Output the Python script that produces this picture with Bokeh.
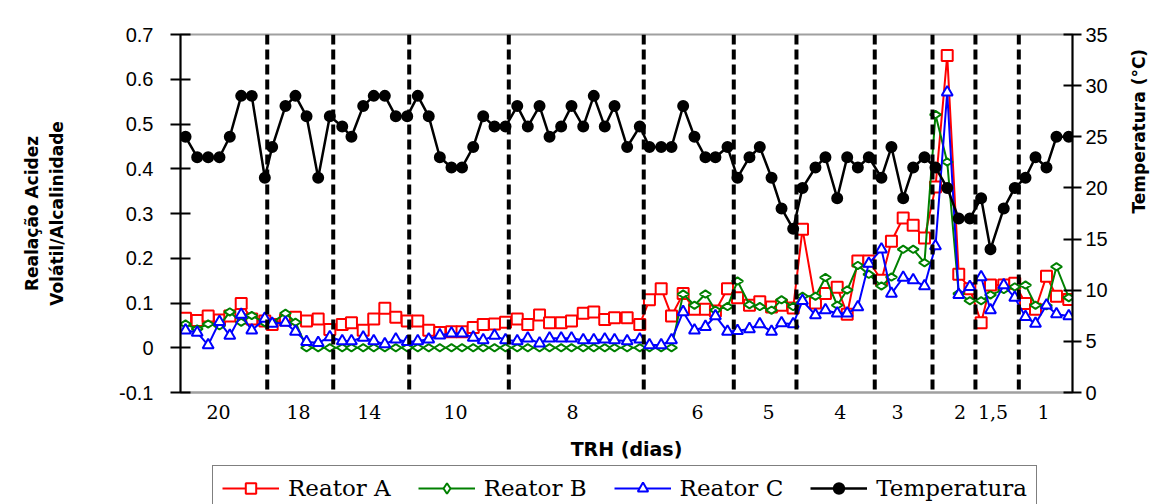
import math
from bokeh.plotting import figure
from bokeh.layouts import column
from bokeh.models import (Range1d, LinearAxis, Span, Legend, LegendItem,
                          FixedTicker)
from bokeh.embed import file_html
from bokeh.resources import INLINE

# ---- data ----
dia = [0.46, 1.52, 2.52, 3.55, 4.49, 5.53, 6.49, 7.68, 8.35, 9.56,
       10.47, 11.48, 12.54, 13.60, 14.73, 15.57, 16.64, 17.60, 18.61, 19.61,
       20.65, 21.61, 22.61, 23.62, 24.68, 25.64, 26.66, 27.57, 28.60, 29.60,
       30.67, 31.63, 32.70, 33.61, 34.67, 35.61, 36.68, 37.64, 38.64, 39.53,
       40.68, 41.83, 42.71, 43.78, 44.72, 45.78, 46.81, 47.81, 48.72, 49.82,
       50.73, 51.82, 52.76, 53.83, 54.74, 55.80, 56.65, 57.83, 58.74, 59.81,
       60.72, 61.69, 62.69, 63.84, 64.75, 65.82, 66.73, 67.76, 68.76, 69.83,
       70.88, 71.89, 72.92, 73.77, 74.98, 75.98, 76.96, 77.87, 78.87, 79.78, 80.90]

temperatura = [25, 23, 23, 23, 25, 29, 29, 21, 24, 28,
               29, 27, 21, 27, 26, 25, 28, 29, 29, 27,
               27, 29, 27, 23, 22, 22, 24, 27, 26, 26,
               28, 26, 28, 25, 26, 28, 26, 29, 26, 28,
               24, 26, 24, 24, 24, 28, 25, 23, 23, 24,
               21, 23, 24, 21, 18, 16, 20, 22, 23, 19,
               23, 22, 23, 21, 24, 19, 22, 23, 22, 20,
               17, 17, 19, 14, 18, 20, 21, 23, 22, 25, 25]

reator_a = [0.066, 0.061, 0.071, 0.062, 0.071, 0.099, 0.064, 0.060, 0.052, 0.062,
            0.068, 0.060, 0.064, 0.041, 0.052, 0.056, 0.039, 0.064, 0.088, 0.068,
            0.060, 0.060, 0.039, 0.034, 0.036, 0.036, 0.045, 0.052, 0.053, 0.057,
            0.064, 0.052, 0.073, 0.056, 0.056, 0.060, 0.077, 0.080, 0.063, 0.067,
            0.067, 0.052, 0.107, 0.132, 0.071, 0.121, 0.086, 0.086, 0.082, 0.132,
            0.112, 0.095, 0.103, 0.091, 0.095, 0.089, 0.265, 0.100, 0.121, 0.135,
            0.075, 0.194, 0.194, 0.151, 0.238, 0.290, 0.274, 0.245, 0.359, 0.653,
            0.164, 0.132, 0.056, 0.140, 0.140, 0.144, 0.099, 0.086, 0.160, 0.115, 0.108]

reator_b = [0.053, 0.042, 0.053, 0.049, 0.080, 0.057, 0.072, 0.056, 0.056, 0.077,
            0.057, 0.0, 0.0, 0.0, 0.0, 0.0, 0.0, 0.0, 0.0, 0.0,
            0.0, 0.0, 0.0, 0.0, 0.0, 0.0, 0.0, 0.0, 0.0, 0.0,
            0.0, 0.0, 0.0, 0.0, 0.0, 0.0, 0.0, 0.0, 0.0, 0.0,
            0.0, 0.0, 0.0, 0.0, 0.0, 0.120, 0.095, 0.120, 0.084, 0.092,
            0.149, 0.096, 0.092, 0.084, 0.107, 0.092, 0.115, 0.115, 0.157, 0.095,
            0.129, 0.184, 0.164, 0.138, 0.158, 0.220, 0.220, 0.190, 0.521, 0.415,
            0.121, 0.105, 0.105, 0.118, 0.130, 0.136, 0.140, 0.095, 0.094, 0.181, 0.112]

reator_c = [0.039, 0.034, 0.006, 0.058, 0.027, 0.074, 0.039, 0.065, 0.054, 0.056,
            0.036, 0.013, 0.011, 0.024, 0.015, 0.015, 0.023, 0.015, 0.008, 0.019,
            0.013, 0.015, 0.019, 0.028, 0.032, 0.032, 0.023, 0.017, 0.027, 0.017,
            0.015, 0.021, 0.010, 0.021, 0.021, 0.021, 0.017, 0.017, 0.019, 0.017,
            0.015, 0.019, 0.006, 0.006, 0.017, 0.080, 0.039, 0.047, 0.071, 0.036,
            0.038, 0.042, 0.053, 0.036, 0.055, 0.053, 0.105, 0.073, 0.084, 0.077,
            0.077, 0.091, 0.188, 0.220, 0.121, 0.157, 0.151, 0.138, 0.227, 0.571,
            0.118, 0.136, 0.158, 0.084, 0.140, 0.112, 0.069, 0.054, 0.095, 0.075, 0.071]

trh_limites = [7.90, 13.91, 20.83, 29.90, 42.19, 50.39, 56.10, 63.23, 68.49, 72.40, 76.35]
trh_posicoes = [3.46, 10.75, 17.2, 25.05, 35.7, 47.1, 53.55, 60.1, 65.3, 71.0, 74.0, 78.6]
trh_rotulos = ["20", "18", "14", "10", "8", "6", "5", "4", "3", "2", "1,5", "1"]

left_ticks = [-0.1, 0.0, 0.1, 0.2, 0.3, 0.4, 0.5, 0.6, 0.7]
left_labels = ["-0.1", "0", "0.1", "0.2", "0.3", "0.4", "0.5", "0.6", "0.7"]
right_ticks = [0, 5, 10, 15, 20, 25, 30, 35]

series_styles = [
    ("Reator A", "#ff0000", "square"),
    ("Reator B", "#008000", "diamond"),
    ("Reator C", "#0000ff", "triangle"),
    ("Temperatura", "black", "circle"),
]

# ---- main figure ----
p = figure(width=1171, height=462, output_backend="svg", toolbar_location=None,
           x_range=Range1d(0, 81.24), y_range=Range1d(-0.1, 0.7),
           min_border_left=180, min_border_right=99, min_border_top=34,
           min_border_bottom=69)
p.xgrid.visible = False
p.ygrid.visible = False
p.background_fill_color = "white"
p.border_fill_color = "white"
p.outline_line_color = "#a0a0a0"
p.outline_line_width = 2

p.extra_y_ranges = {"temp": Range1d(0, 35)}

# left axis
ya = p.yaxis[0]
ya.ticker = FixedTicker(ticks=left_ticks, minor_ticks=[])
ya.major_label_overrides = dict(zip(left_ticks, left_labels))
ya.axis_line_color = "black"
ya.axis_line_width = 2
ya.major_tick_line_color = "black"
ya.major_tick_line_width = 2
ya.major_tick_in = 10
ya.major_tick_out = 10
ya.major_label_standoff = 17
ya.major_label_text_font = "Liberation Sans"
ya.major_label_text_font_size = "20px"
ya.major_label_text_color = "black"
ya.axis_label = "Realação Acidez\nVolátil/Alcalinidade"
ya.axis_label_text_font = "DejaVu Sans"
ya.axis_label_text_font_style = "bold"
ya.axis_label_text_font_size = "17px"
ya.axis_label_text_color = "black"
ya.axis_label_text_line_height = 1.25
ya.axis_label_standoff = 49

# right axis
yr = LinearAxis(y_range_name="temp", ticker=FixedTicker(ticks=right_ticks, minor_ticks=[]))
yr.axis_line_color = "black"
yr.axis_line_width = 2
yr.major_tick_line_color = "black"
yr.major_tick_line_width = 2
yr.major_tick_in = 9
yr.major_tick_out = 9
yr.major_label_standoff = 4
yr.major_label_text_font = "Liberation Sans"
yr.major_label_text_font_size = "20px"
yr.major_label_text_color = "black"
yr.axis_label = "Temperatura (°C)"
yr.axis_label_text_font = "DejaVu Sans"
yr.axis_label_text_font_style = "bold"
yr.axis_label_text_font_size = "17px"
yr.axis_label_text_color = "black"
yr.axis_label_standoff = 28
if "axis_label_orientation" in yr.properties():
    yr.axis_label_orientation = math.pi / 2
p.add_layout(yr, "right")

# bottom axis
xa = p.xaxis[0]
xa.ticker = FixedTicker(ticks=trh_posicoes, minor_ticks=[])
xa.major_label_overrides = dict(zip(trh_posicoes, trh_rotulos))
xa.axis_line_color = "#a0a0a0"
xa.axis_line_width = 2
xa.major_tick_in = 0
xa.major_tick_out = 0
xa.major_label_standoff = 12
xa.major_label_text_font = "DejaVu Serif"
xa.major_label_text_font_size = "19px"
xa.major_label_text_color = "black"
xa.axis_label = "TRH (dias)"
xa.axis_label_text_font = "DejaVu Sans"
xa.axis_label_text_font_style = "bold"
xa.axis_label_text_font_size = "19px"
xa.axis_label_text_color = "black"
xa.axis_label_standoff = 16

# TRH phase limits
for lim in trh_limites:
    p.add_layout(Span(location=lim, dimension="height", line_color="black",
                      line_width=4, line_dash="10 5"))

series = [("Reator A", reator_a, None), ("Reator B", reator_b, None),
          ("Reator C", reator_c, None), ("Temperatura", temperatura, "temp")]


def draw(fig, xs, ys, color, marker, rng):
    kw = {} if rng is None else {"y_range_name": rng}
    ln = fig.line(xs, ys, line_color=color,
                  line_width=2.5 if marker == "circle" else 2, **kw)
    extra = {"angle": math.pi / 2} if marker == "diamond" else {}
    size = 10 if marker == "circle" else 11
    fill = "black" if marker == "circle" else "white"
    sc = fig.scatter(xs, ys, marker=marker, size=size, line_color=color,
                     line_width=2, fill_color=fill, **extra, **kw)
    return ln, sc


for (name, ys, rng), (_, color, marker) in zip(series, series_styles):
    draw(p, dia, ys, color, marker, rng)

# ---- legend strip (its frame lines up with the chart frame) ----
q = figure(width=1171, height=42, output_backend="svg", toolbar_location=None,
           x_axis_type=None, y_axis_type=None, x_range=Range1d(0, 1),
           y_range=Range1d(0, 1), min_border=0)
q.xgrid.visible = False
q.ygrid.visible = False
q.outline_line_color = None
q.background_fill_color = "white"
q.border_fill_color = "white"

items = []
for name, color, marker in series_styles:
    # off-screen points so that the legend glyph has values to draw with
    ln, sc = draw(q, [-5, -4], [-5, -5], color, marker, None)
    items.append(LegendItem(label=name, renderers=[ln, sc]))

legend = Legend(items=items, orientation="horizontal", location=(32, -7))
legend.label_text_font = "DejaVu Serif"
legend.label_text_font_size = "23px"
legend.label_text_color = "black"
legend.glyph_width = 57
legend.glyph_height = 26
legend.label_height = 26
legend.label_standoff = 9
legend.spacing = 27
legend.padding = 9
legend.margin = 0
legend.border_line_color = "black"
legend.border_line_width = 1
legend.background_fill_color = "white"
legend.background_fill_alpha = 1.0
q.add_layout(legend, "center")

layout = column(p, q, spacing=0)
open("out.html", "w").write(file_html(layout, INLINE))
